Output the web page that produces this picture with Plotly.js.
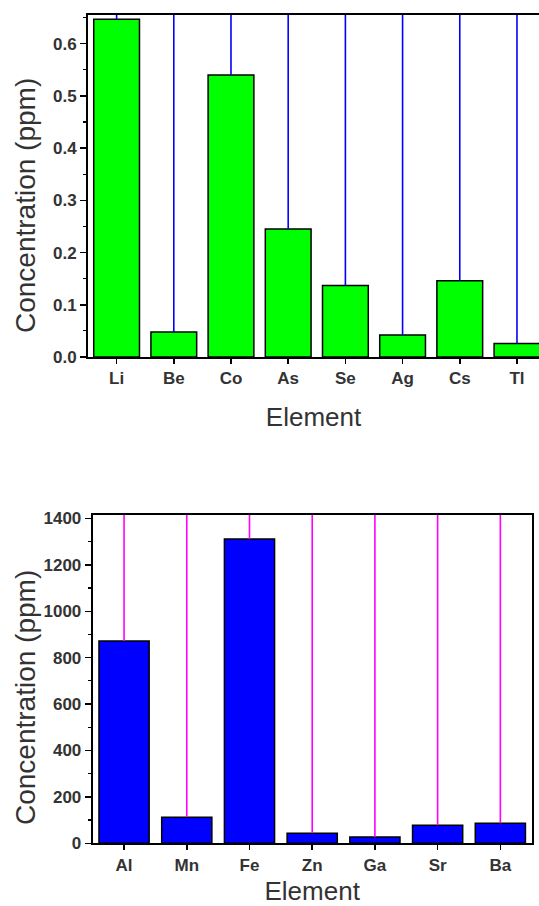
<!DOCTYPE html>
<html>
<head>
<meta charset="utf-8">
<script src="https://cdn.plot.ly/plotly-3.0.1.min.js"></script>
<style>html,body{margin:0;padding:0;background:#fff;}#chart{width:539px;height:906px;}</style>
</head>
<body>
<div id="chart"></div>
<script>
// Trace elements (top panel)
const traceElements = ['Li', 'Be', 'Co', 'As', 'Se', 'Ag', 'Cs', 'Tl'];
const traceConc = [0.647, 0.048, 0.540, 0.245, 0.137, 0.042, 0.146, 0.026];
// upper error bars run off the top of the panel (clipped)
const traceErrUp = [1, 1, 1, 1, 1, 1, 1, 1];

// Major elements (bottom panel)
const majorElements = ['Al', 'Mn', 'Fe', 'Zn', 'Ga', 'Sr', 'Ba'];
const majorConc = [872, 112, 1312, 43, 27, 78, 86];
const majorErrUp = [3000, 3000, 3000, 3000, 3000, 3000, 3000];

const yTitle = 'Concentration (ppm)';
const xTitle = 'Element';

const FONT = 'Arial, "Liberation Sans", sans-serif';
const tickFont = {family: FONT, size: 17, color: '#333', weight: 'bold'};
const titleFont = {family: FONT, size: 26, color: '#333'};
const yTitleFont = {family: FONT, size: 28, color: '#333'};

function zeros(n) { return new Array(n).fill(0); }

const data = [
  {
    type: 'bar', x: traceElements, y: traceConc, xaxis: 'x', yaxis: 'y',
    width: 0.8,
    marker: {color: '#00ff00', line: {color: '#000', width: 1.5}},
    error_y: {type: 'data', symmetric: false, array: traceErrUp, arrayminus: zeros(traceErrUp.length),
              color: '#0000ff', thickness: 1.6, width: 0, visible: true},
    hoverinfo: 'x+y', showlegend: false
  },
  {
    type: 'bar', x: majorElements, y: majorConc, xaxis: 'x2', yaxis: 'y2',
    width: 0.8,
    marker: {color: '#0000ff', line: {color: '#000', width: 1.5}},
    error_y: {type: 'data', symmetric: false, array: majorErrUp, arrayminus: zeros(majorErrUp.length),
              color: '#ff00ff', thickness: 1.6, width: 0, visible: true},
    hoverinfo: 'x+y', showlegend: false
  }
];

const W = 539, H = 906;
const catMinor = {ticks: 'outside', ticklen: 3, tick0: 0.5, dtick: 1, tickcolor: '#000', tickwidth: 1.2};
const layout = {
  width: W, height: H,
  margin: {l: 0, r: 0, t: 0, b: 0},
  paper_bgcolor: '#fff', plot_bgcolor: '#fff',
  showlegend: false,
  xaxis: {
    domain: [88 / W, 1], anchor: 'y',
    type: 'category', range: [-0.5, 7.385],
    showline: true, linecolor: '#000', linewidth: 2, mirror: true,
    ticks: 'outside', ticklen: 5, tickwidth: 1.5, tickcolor: '#000',
    minor: catMinor,
    tickfont: tickFont, showgrid: false, zeroline: false, automargin: false,
    title: {text: xTitle, font: titleFont, standoff: 20}
  },
  yaxis: {
    domain: [(H - 357) / H, (H - 15) / H], anchor: 'x',
    range: [0, 0.655], tickformat: '.1f', dtick: 0.1, tick0: 0,
    showline: true, linecolor: '#000', linewidth: 2, mirror: false,
    ticks: 'outside', ticklen: 6, tickwidth: 1.5, tickcolor: '#000',
    minor: {ticks: 'outside', ticklen: 3, dtick: 0.05, tickcolor: '#000', tickwidth: 1.2},
    tickfont: tickFont, showgrid: false, zeroline: false, automargin: false
  },
  xaxis2: {
    domain: [92.7 / W, 531.7 / W], anchor: 'y2',
    type: 'category', range: [-0.5, 6.5],
    showline: true, linecolor: '#000', linewidth: 2, mirror: true,
    ticks: 'outside', ticklen: 5, tickwidth: 1.5, tickcolor: '#000',
    minor: catMinor,
    tickfont: tickFont, showgrid: false, zeroline: false, automargin: false,
    title: {text: xTitle, font: titleFont, standoff: 20}
  },
  yaxis2: {
    domain: [(H - 843.3) / H, (H - 515) / H], anchor: 'x2',
    range: [0, 1415], tickformat: 'd', dtick: 200, tick0: 0,
    showline: true, linecolor: '#000', linewidth: 2, mirror: true,
    ticks: 'outside', ticklen: 6, tickwidth: 1.5, tickcolor: '#000',
    minor: {ticks: 'outside', ticklen: 3, dtick: 100, tickcolor: '#000', tickwidth: 1.2},
    tickfont: tickFont, showgrid: false, zeroline: false, automargin: false
  },
  annotations: [
    {text: yTitle, xref: 'paper', yref: 'paper', x: 25 / W, y: (H - 206) / H,
     xanchor: 'center', yanchor: 'middle', textangle: -90, showarrow: false, font: yTitleFont},
    {text: yTitle, xref: 'paper', yref: 'paper', x: 25 / W, y: (H - 698) / H,
     xanchor: 'center', yanchor: 'middle', textangle: -90, showarrow: false, font: yTitleFont}
  ]
};

Plotly.newPlot('chart', data, layout, {displayModeBar: false, staticPlot: true});
</script>
</body>
</html>
